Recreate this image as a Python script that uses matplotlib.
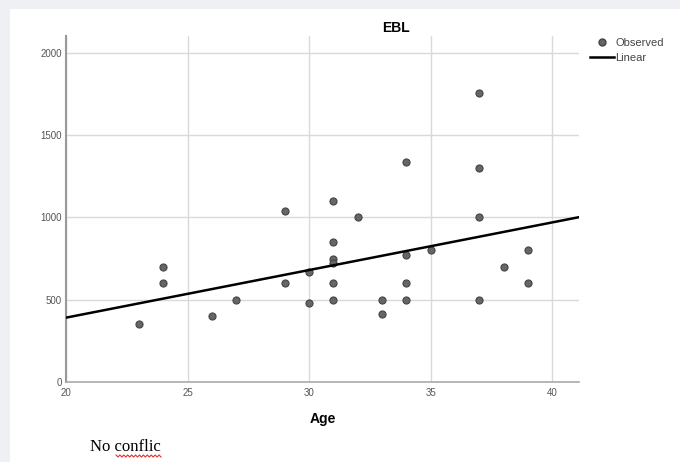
import numpy as np
import matplotlib
matplotlib.use('Agg')
import matplotlib.pyplot as plt
from matplotlib.patches import Rectangle
from matplotlib.lines import Line2D

plt.rcParams['font.family'] = ['Liberation Sans', 'DejaVu Sans']

# Observed points (Age, EBL)
age = [23, 24, 24, 26, 27, 29, 29, 30, 30, 31, 31, 31, 31, 31, 31, 32,
       33, 33, 34, 34, 34, 34, 35, 37, 37, 37, 37, 38, 39, 39]
ebl = [350, 700, 600, 400, 500, 600, 1040, 670, 480, 1100, 850, 745, 725, 600, 500, 1000,
       500, 410, 770, 600, 500, 1340, 800, 1760, 1300, 1000, 500, 700, 800, 600]

# Linear fit as drawn (intercept at Age 20, slope per year)
fit_at_20 = 390
fit_slope = 29.0

x_ticks = [20, 25, 30, 35, 40]
y_ticks = [0, 500, 1000, 1500, 2000]

fig = plt.figure(figsize=(6.8, 4.62), dpi=100)
fig.patch.set_facecolor('#eef0f3')
fig.patches.append(Rectangle((10 / 680, 0), 670 / 680, 453 / 462,
                             transform=fig.transFigure, facecolor='white',
                             edgecolor='none', zorder=-5))

ax = fig.add_axes([66 / 680, 80.3 / 462, 513 / 680, 346 / 462])
ax.set_facecolor('white')
ax.set_xlim(20, 41.1)
ax.set_ylim(0, 2107)

ax.set_xticks(x_ticks)
ax.set_yticks(y_ticks)
ax.grid(True, color='#d9d9d9', linewidth=1)
ax.set_axisbelow(True)
ax.tick_params(length=0, labelsize=7, colors='#555555')
ax.tick_params(axis='x', pad=4.5)
ax.tick_params(axis='y', pad=3)
for s in ['top', 'right']:
    ax.spines[s].set_visible(False)
ax.spines['left'].set_color('#999999')
ax.spines['left'].set_linewidth(1.5)
ax.spines['bottom'].set_color('#aaaaaa')
ax.spines['bottom'].set_linewidth(1.2)

ax.scatter(age, ebl, s=26, facecolor='#666666', edgecolor='#444444',
           linewidth=0.8, zorder=3, label='Observed')
xl = np.array(ax.get_xlim())
ax.plot(xl, fit_at_20 + fit_slope * (xl - 20), color='black', linewidth=1.8,
        zorder=4, label='Linear')

# the title sits right of the axes centre in the original
ax.set_title('EBL', fontsize=10, fontweight='bold', pad=3, x=(396 - 66) / 513)
ax.set_xlabel('Age', fontsize=10, fontweight='bold', labelpad=10)

handles = [Line2D([], [], marker='o', linestyle='none', markersize=5,
                  markerfacecolor='#666666', markeredgecolor='#444444'),
           Line2D([], [], color='black', linewidth=1.8)]
fig.legend(handles, ['Observed', 'Linear'], loc='upper left',
           bbox_to_anchor=(590 / 680, 1 - 38 / 462), frameon=False,
           fontsize=8, handlelength=2.2, handletextpad=0.1,
           labelspacing=0.45, borderaxespad=0, borderpad=0,
           labelcolor='#444444')

fig.text(90 / 680, 1 - 447 / 462, 'No conflic', family='Liberation Serif',
         fontsize=12, color='black', va='center', ha='left')
# red squiggle under the misspelled word
zx = np.linspace(116, 161, 24)
zy = np.where(np.arange(24) % 2 == 0, 455, 457)
fig.add_artist(Line2D(zx / 680, 1 - zy / 462, transform=fig.transFigure,
                      color='#e03030', linewidth=0.8))

fig.savefig('out.png', dpi=100, facecolor=fig.get_facecolor())
